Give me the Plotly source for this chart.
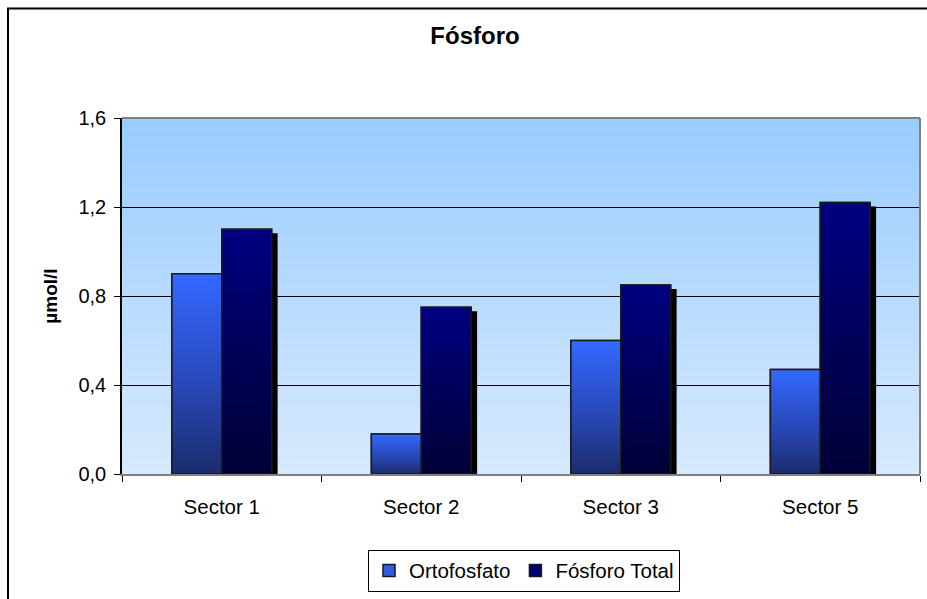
import plotly.graph_objects as go

# ---- data ----
categories = ["Sector 1", "Sector 2", "Sector 3", "Sector 5"]
ortofosfato = [0.90, 0.18, 0.60, 0.47]
fosforo_total = [1.10, 0.75, 0.85, 1.22]
y_ticks = [0.0, 0.4, 0.8, 1.2, 1.6]
y_tick_labels = ["0,0", "0,4", "0,8", "1,2", "1,6"]

FONT = "Liberation Sans, Arial, sans-serif"
idx = list(range(len(categories)))
W = 0.25
SHADOW_DX = 0.03
SHADOW_DY = 0.018

fig = go.Figure()

# shadows behind the total bars
fig.add_trace(go.Bar(
    x=idx, y=[v - SHADOW_DY for v in fosforo_total], width=W, offset=SHADOW_DX,
    marker=dict(color="black", line=dict(width=0)), showlegend=False, hoverinfo="skip"))

# base bars (also provide legend entries)
fig.add_trace(go.Bar(
    x=idx, y=ortofosfato, width=W, offset=-W, name="Ortofosfato",
    marker=dict(color="#2f5be6", line=dict(color="#1a1a1a", width=1.5))))
fig.add_trace(go.Bar(
    x=idx, y=fosforo_total, width=W, offset=0, name="Fósforo Total",
    marker=dict(color="#000070", line=dict(color="#1a1a1a", width=1.5))))

# gradient overlays per bar
def grad_bar(i, v, off, scale):
    x0 = i + off
    x1 = x0 + W
    fig.add_trace(go.Scatter(
        x=[x0, x1, x1, x0, x0], y=[0, 0, v, v, 0], mode="lines", fill="toself",
        fillgradient=dict(type="vertical", colorscale=scale),
        line=dict(color="#1a1a1a", width=1.5), showlegend=False, hoverinfo="skip"))

ortho_scale = [[0, "#1b2c6c"], [0.45, "#2848b8"], [1, "#3468ff"]]
total_scale = [[0, "#000036"], [0.5, "#00005a"], [1, "#000082"]]
for i, v in zip(idx, ortofosfato):
    grad_bar(i, v, -W, ortho_scale)
for i, v in zip(idx, fosforo_total):
    grad_bar(i, v, 0, total_scale)

# background gradient bands (below gridlines)
shapes = []
N = 120
top = (153, 204, 255)
bot = (215, 233, 253)
for k in range(N):
    t = (k + 0.5) / N
    c = tuple(round(bot[j] + (top[j] - bot[j]) * t) for j in range(3))
    shapes.append(dict(type="rect", xref="x domain", yref="y domain",
                       x0=0, x1=1, y0=k / N, y1=(k + 1) / N + 0.002,
                       fillcolor="rgb(%d,%d,%d)" % c, line=dict(width=0), layer="below"))
# plot-area border (top and right) in grey
shapes.append(dict(type="line", xref="x domain", yref="y domain", x0=0, x1=1, y0=1, y1=1,
                   line=dict(color="#808080", width=2), layer="above"))
shapes.append(dict(type="line", xref="x domain", yref="y domain", x0=1, x1=1, y0=0, y1=1,
                   line=dict(color="#808080", width=2), layer="above"))
# outer chart border
L, T, PW, PH = 122, 118, 798, 358
shapes.append(dict(type="rect", xref="paper", yref="paper",
                   x0=(8 - L) / PW, x1=(940 - L) / PW,
                   y0=(T + PH - 620) / PH, y1=(T + PH - 8) / PH,
                   line=dict(color="black", width=2), fillcolor="rgba(0,0,0,0)"))

fig.update_layout(
    width=927, height=599,
    margin=dict(l=L, r=927 - L - PW, t=T, b=599 - T - PH),
    paper_bgcolor="white", plot_bgcolor="white",
    barmode="overlay",
    font=dict(family=FONT, size=20, color="black"),
    title=dict(text="<b>Fósforo</b>", font=dict(family=FONT, size=24, color="black"),
               xref="container", yref="container", x=475 / 927, y=1 - 36 / 599,
               xanchor="center", yanchor="middle"),
    xaxis=dict(range=[-0.5, 3.5], tickvals=idx, ticktext=categories, ticks="",
               showgrid=False, zeroline=False, showline=True, linecolor="#808080", linewidth=2,
               ticklabelstandoff=13, tickfont=dict(size=20.5),
               minor=dict(tickvals=[-0.5, 0.5, 1.5, 2.5, 3.5], ticks="outside", ticklen=6,
                          tickcolor="black", tickwidth=1, showgrid=False)),
    yaxis=dict(range=[0, 1.6], tickvals=y_ticks, ticktext=y_tick_labels,
               ticks="outside", ticklen=6, tickcolor="black", tickwidth=1,
               showgrid=True, gridcolor="black", gridwidth=1, zeroline=False,
               showline=True, linecolor="black", linewidth=1.5,
               ticklabelstandoff=4, tickfont=dict(size=20),
               title=dict(text="<b>µmol/l</b>", font=dict(size=19), standoff=16)),
    legend=dict(orientation="h", x=(524 - L) / PW, xanchor="center", y=(PH + T - 552) / PH,
                yanchor="top", bordercolor="black", borderwidth=1, bgcolor="white",
                font=dict(size=20.5), traceorder="normal"),
    shapes=shapes,
)

fig.write_html("out.html", config={"displayModeBar": False},
               post_script="document.body.style.margin='0px';document.body.style.overflow='hidden';")
